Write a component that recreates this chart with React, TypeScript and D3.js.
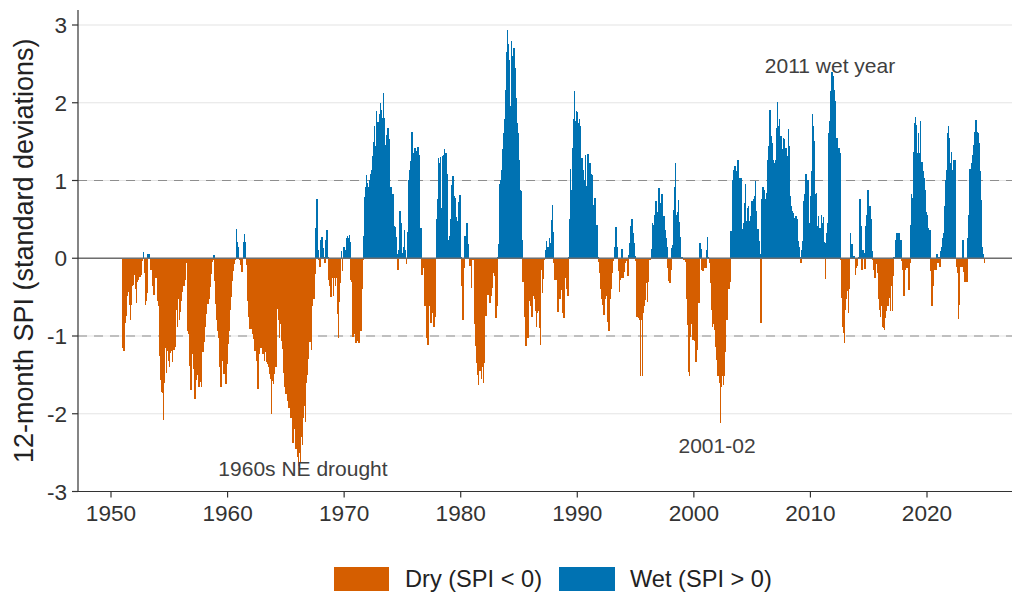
import React, { useEffect } from 'react';
import * as d3 from 'd3';

// ---- data: 12-month SPI, monthly, Jan 1951 – Dec 2024 ----
const startYear = 1951;
const spiRows: number[][] = [
  [-1.15,-1.19,-0.83,-0.74,-0.48,-0.39,-0.43,-0.60,-0.80,-0.60,-0.36,-0.34], // 1951
  [-0.21,-0.39,-0.57,-0.30,-0.28,-0.24,-0.24,-0.21,-0.04,0.08,-0.19,-0.60],
  [-0.55,-0.45,0.06,0.06,-0.01,-0.15,-0.10,-0.36,-0.47,-0.13,-0.25,-0.17],
  [-0.55,-0.61,-1.26,-1.57,-1.72,-1.73,-2.08,-1.60,-1.16,-1.47,-1.19,-1.32],
  [-1.40,-1.22,-1.19,-1.33,-1.18,-1.18,-1.14,-0.67,-0.89,-0.52,-0.79,-0.69], // 1955
  [-0.55,-0.43,-0.33,-0.36,-0.28,-0.04,-0.06,-0.93,-0.97,-1.39,-1.70,-1.23],
  [-1.19,-1.42,-1.81,-1.57,-1.36,-1.50,-1.65,-1.65,-1.59,-1.65,-1.21,-1.20],
  [-1.08,-0.89,-0.72,-0.59,-0.59,-0.52,-0.37,-0.20,-0.05,-0.02,0.04,-0.29],
  [-0.59,-0.80,-0.93,-1.02,-1.40,-1.66,-1.32,-1.21,-1.49,-1.40,-1.62,-1.36],
  [-1.10,-0.93,-0.59,-0.67,-0.50,-0.29,-0.16,-0.07,-0.02,0.38,0.21,0.14], // 1960
  [-0.02,-0.09,-0.18,-0.18,0.21,0.31,0.21,-0.09,-0.31,-0.55,-0.76,-0.91],
  [-0.80,-0.91,-0.97,-1.04,-1.19,-1.10,-1.32,-1.68,-1.23,-1.15,-1.08,-1.15],
  [-1.23,-1.12,-1.32,-1.21,-1.34,-1.36,-1.40,-1.49,-1.55,-2.00,-1.58,-1.62],
  [-1.49,-1.40,-1.40,-0.65,-0.80,-1.02,-0.85,-0.70,-1.06,-1.17,-1.47,-1.66],
  [-1.75,-1.66,-1.83,-1.92,-1.79,-2.05,-2.00,-2.37,-2.09,-2.20,-2.45,-2.30], // 1965
  [-2.55,-2.67,-2.50,-2.62,-2.30,-2.40,-2.05,-1.90,-2.10,-1.60,-1.50,-1.30],
  [-1.08,-1.08,-1.18,-0.62,-0.53,-0.53,-0.20,0.39,0.76,0.11,-0.02,-0.11],
  [0.23,0.27,0.13,0.01,-0.06,0.24,0.36,0.02,-0.28,-0.36,-0.50,-0.19],
  [-0.26,-0.48,-0.26,-0.36,-0.26,-0.72,-1.03,-0.56,-0.32,0.09,-0.17,0.15],
  [0.15,0.11,0.26,0.28,0.26,0.30,0.21,-0.28,-0.31,-1.01,-0.84,-0.97], // 1970
  [-1.09,-1.01,-1.07,-1.09,-0.94,-0.94,-0.39,-0.02,0.29,0.79,0.92,1.07],
  [0.97,0.92,1.01,1.09,1.14,1.31,1.50,1.70,1.45,1.90,1.75,1.75],
  [1.86,2.00,1.91,1.81,2.12,1.81,1.36,1.46,1.59,1.68,1.54,0.65],
  [0.92,0.65,0.83,0.42,0.40,0.27,0.05,-0.15,0.11,0.61,0.51,0.45],
  [0.07,0.15,0.36,0.11,-0.07,0.34,1.01,1.13,1.25,1.63,1.63,1.36], // 1975
  [1.42,1.42,1.38,1.33,1.43,1.33,0.07,0.39,-0.21,-0.05,-0.12,-0.62],
  [-0.49,-1.03,-1.11,-0.62,-0.49,-0.83,-0.66,-0.70,-0.88,-0.64,-0.76,0.50],
  [0.76,1.29,1.23,1.30,0.65,1.31,1.33,1.41,1.36,1.36,1.09,0.23],
  [0.29,0.50,0.80,0.94,1.06,0.80,0.77,0.53,0.41,0.48,0.72,0.81],
  [0.02,-0.36,-0.79,-0.12,0.29,0.13,0.45,0.18,0.02,-0.10,-0.10,-0.38], // 1980
  [-0.02,-0.02,-0.85,-1.13,-1.35,-1.50,-1.63,-1.45,-1.45,-1.55,-1.40,-1.60],
  [-1.35,-0.60,-0.74,-0.33,-0.47,-0.19,-0.58,-0.49,-0.38,-0.19,-0.12,-0.23],
  [-0.77,-0.62,0.02,0.18,0.96,1.01,1.14,1.40,1.61,1.79,2.17,2.65],
  [2.93,2.75,2.55,1.96,2.80,2.60,2.70,2.70,2.45,2.06,1.74,1.61],
  [1.27,0.88,0.86,0.24,-0.31,-0.31,-0.75,-1.13,-0.88,-1.03,-0.55,-0.49], // 1985
  [-0.62,-0.75,-0.47,-0.49,-0.53,-0.68,-0.88,-0.70,-0.68,-0.90,-1.11,-0.15],
  [-0.45,-0.27,-0.02,0.10,0.22,0.15,0.15,0.26,0.20,0.49,0.69,0.34],
  [-0.06,-0.28,-0.11,-0.28,-0.69,-0.28,-0.53,-0.13,-0.41,-0.71,-0.77,-0.17],
  [-0.26,-0.39,-0.49,0.02,0.50,1.15,0.88,1.42,1.79,2.15,1.76,1.90],
  [1.88,1.74,1.79,1.70,1.29,1.29,1.14,1.01,1.33,0.93,0.92,1.34], // 1990
  [1.14,1.22,1.09,1.07,0.54,0.69,0.77,0.30,0.43,0.02,-0.05,-0.19],
  [-0.39,-0.52,-0.60,-0.73,-0.62,-0.52,-0.49,-0.82,-0.94,-0.94,-0.52,-0.39],
  [-0.19,-0.04,0.15,0.40,0.40,0.15,-0.17,-0.44,-0.28,-0.26,0.12,-0.26],
  [-0.18,-0.06,-0.04,-0.02,-0.23,0.04,0.20,0.42,0.50,0.32,0.19,0.03],
  [-0.04,-0.75,-0.75,-0.77,-0.79,-1.52,-0.79,-1.52,-0.71,-0.62,-0.54,-0.32], // 1995
  [-0.56,-0.30,-0.02,-0.02,0.12,0.45,0.43,0.56,0.73,0.73,0.48,0.60],
  [0.90,0.49,0.71,0.82,0.54,0.54,0.36,0.26,0.15,-0.13,-0.29,-0.32],
  [-0.15,0.13,0.17,0.62,0.92,1.22,0.56,0.60,0.75,0.47,0.27,0.02],
  [0.01,-0.02,-0.02,-0.05,-0.52,-0.86,-1.46,-1.52,-1.01,-0.84,-0.67,-1.05],
  [-0.94,-1.07,-1.33,-1.18,-0.58,-0.58,0.19,0.12,-0.15,-0.17,-0.09,-0.13], // 2000
  [-0.13,0.10,0.27,0.01,-0.06,-0.32,-0.67,-0.88,-0.84,-0.92,-1.14,-1.31],
  [-1.52,-1.52,-1.61,-2.12,-1.65,-1.52,-1.63,-1.52,-1.20,-0.79,-0.79,-0.40],
  [-0.40,-0.30,0.35,0.30,1.01,1.14,1.19,1.03,1.12,1.27,0.95,1.03],
  [0.67,1.03,0.37,0.45,0.71,0.95,0.48,0.65,0.67,0.48,0.54,0.73],
  [0.73,0.76,0.80,0.99,0.61,0.24,0.37,0.22,0.05,-0.83,0.76,0.91], // 2005
  [0.88,0.50,0.76,0.84,1.27,1.44,1.91,1.57,1.48,1.27,1.23,1.06],
  [1.27,1.67,2.01,1.70,1.79,1.57,1.57,1.40,1.55,1.54,1.42,1.42],
  [1.31,1.66,1.44,0.80,0.67,0.61,0.58,0.38,0.52,0.54,0.50,0.22],
  [0.15,0.02,-0.06,0.11,0.22,0.73,0.82,1.08,0.97,1.01,0.73,0.45],
  [0.80,1.12,1.85,1.70,1.51,0.82,0.84,0.41,0.54,0.39,0.39,0.56], // 2010
  [0.45,0.53,0.21,-0.27,0.20,0.33,0.45,1.61,1.76,2.15,2.39,2.34],
  [2.17,2.02,1.53,1.55,1.40,1.42,1.36,-0.02,-0.51,-0.88,-0.96,-1.09],
  [-0.66,-0.53,-0.42,-0.70,-0.40,0.32,0.18,0.18,0.03,0.03,-0.21,-0.12],
  [-0.10,0.01,0.13,0.76,0.41,-0.15,0.11,0.07,-0.14,0.42,0.56,0.88],
  [0.58,0.67,0.50,0.09,-0.02,-0.15,-0.25,-0.02,-0.08,-0.19,-0.53,-0.66], // 2015
  [-0.75,-0.62,-0.88,-0.90,-0.92,-0.77,-0.68,-0.62,-0.62,-0.51,-0.68,-0.36],
  [-0.68,-0.23,0.01,0.02,0.24,0.33,0.20,0.32,0.24,0.24,-0.04,-0.15],
  [-0.49,-0.15,-0.13,-0.06,-0.13,-0.41,-0.06,0.43,0.82,0.77,1.37,1.74],
  [1.82,1.72,1.35,1.61,1.35,1.76,1.24,1.24,1.12,1.03,0.88,0.60],
  [0.56,0.39,0.36,0.36,-0.17,-0.62,-0.36,-0.15,-0.06,-0.15,0.06,-0.06], // 2020
  [0.02,-0.11,0.09,0.15,0.26,0.32,0.67,1.01,1.14,1.61,1.70,1.55],
  [1.22,1.37,1.14,1.27,1.27,1.27,-0.11,-0.19,-0.78,-0.60,-0.11,-0.09],
  [-0.11,0.24,-0.18,-0.30,-0.02,-0.30,0.26,0.56,1.15,1.12,1.22,1.33],
  [1.46,1.63,1.78,1.63,1.61,1.44,1.48,1.12,0.75,0.15,0.06,-0.06], // 2024
];

const xTicks = [1950, 1960, 1970, 1980, 1990, 2000, 2010, 2020];
const yTicks = [-3, -2, -1, 0, 1, 2, 3];
const dashedLevels = [-1, 1];

const annoLabels = ['2011 wet year', '2001-02', '1960s NE drought'];
const annoX = [2011.68, 2001.99, 1966.47];
const annoY = [2.48, -2.41, -2.7];

const legendLabels = ['Dry (SPI < 0)', 'Wet (SPI > 0)'];
const DRY = '#D55E00';
const WET = '#0072B2';

const W = 1020;
const H = 597;
const FONT = '"Liberation Sans", Arial, Helvetica, sans-serif';

export default function App() {
  useEffect(() => {
    document.body.style.margin = '0';
  }, []);

  const panelL = 78;
  const panelR = 1012;
  const panelT = 10;
  const panelB = 491.5;

  const x = d3.scaleLinear().domain([1950, 2020]).range([111, 927]);
  const y = d3.scaleLinear().domain([-3, 3]).range([491.5, 25]);

  const data = spiRows.flatMap((row, i) =>
    row.map((v, m) => ({ t: startYear + i + m / 12, v }))
  );
  const half = 1 / 24;

  return (
    <svg width={W} height={H} style={{ position: 'absolute', left: 0, top: 0, background: '#fff' }} fontFamily={FONT}>
      {/* horizontal grid */}
      {yTicks.map((t) => (
        <line key={'g' + t} x1={panelL} x2={panelR} y1={y(t)} y2={y(t)} stroke="#E4E4E4" strokeWidth={1.1} />
      ))}
      {/* dashed reference lines */}
      {dashedLevels.map((t) => (
        <line key={'d' + t} x1={panelL} x2={panelR} y1={y(t)} y2={y(t)} stroke="#8E8E8E" strokeWidth={1.1} strokeDasharray="9,7" />
      ))}
      {/* bars */}
      <g shapeRendering="crispEdges">
        {data.map((d, i) => {
          const x0 = x(d.t - half);
          const x1 = x(d.t + half);
          const y0 = y(0);
          const y1 = y(d.v);
          return (
            <rect
              key={i}
              x={x0}
              width={x1 - x0 + 0.5}
              y={Math.min(y0, y1)}
              height={Math.abs(y1 - y0)}
              fill={d.v < 0 ? DRY : WET}
            />
          );
        })}
      </g>
      {/* zero line */}
      <line x1={panelL} x2={panelR} y1={y(0)} y2={y(0)} stroke="#6E6E6E" strokeWidth={1.3} />

      {/* axes */}
      <line x1={panelL} x2={panelL} y1={panelT} y2={panelB + 0.5} stroke="#333" strokeWidth={1.2} />
      <line x1={panelL} x2={panelR} y1={panelB} y2={panelB} stroke="#333" strokeWidth={1.2} />
      {yTicks.map((t) => (
        <g key={'yt' + t}>
          <line x1={panelL - 6} x2={panelL} y1={y(t)} y2={y(t)} stroke="#333" strokeWidth={1.2} />
          <text x={panelL - 11} y={y(t)} dy="0.36em" textAnchor="end" fontSize={22.6} fill="#333">
            {t}
          </text>
        </g>
      ))}
      {xTicks.map((t) => (
        <g key={'xt' + t}>
          <line x1={x(t)} x2={x(t)} y1={panelB} y2={panelB + 6} stroke="#333" strokeWidth={1.2} />
          <text x={x(t)} y={521} textAnchor="middle" fontSize={22.6} fill="#333">
            {t}
          </text>
        </g>
      ))}
      <text
        transform={`translate(33, ${(panelT + panelB) / 2}) rotate(-90)`}
        textAnchor="middle"
        fontSize={27}
        fill="#222"
      >
        12-month SPI (standard deviations)
      </text>

      {/* annotations */}
      {annoLabels.map((s, i) => (
        <text key={s} x={x(annoX[i])} y={y(annoY[i])} dy="0.36em" textAnchor="middle" fontSize={21} fill="#404040">
          {s}
        </text>
      ))}

      {/* legend */}
      <g>
        <rect x={334} y={567} width={55} height={24} fill={DRY} />
        <text x={405} y={587} fontSize={23.6} fill="#222">{legendLabels[0]}</text>
        <rect x={559} y={567} width={56} height={24} fill={WET} />
        <text x={630} y={587} fontSize={23.6} fill="#222">{legendLabels[1]}</text>
      </g>
    </svg>
  );
}
